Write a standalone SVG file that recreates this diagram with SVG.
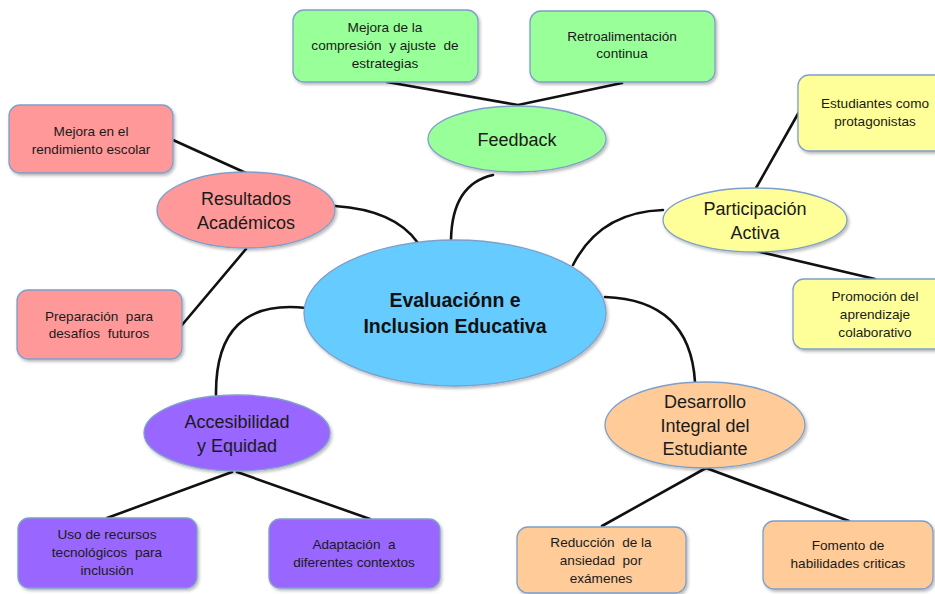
<svg xmlns="http://www.w3.org/2000/svg" width="935" height="594" viewBox="0 0 935 594">
<defs>
<filter id="sh" x="-10%" y="-10%" width="125%" height="130%">
<feDropShadow dx="1.5" dy="2" stdDeviation="1.5" flood-color="#000" flood-opacity="0.28"/>
</filter>
<style>
.box{stroke:#7E9FCC;stroke-width:1.3;filter:url(#sh)}
.ell{stroke:#7E9FCC;stroke-width:1.3;filter:url(#sh)}
.g{fill:#99FF99}.p{fill:#FF9999}.y{fill:#FFFF99}.v{fill:#9966FF}.o{fill:#FFCC99}.c{fill:#66CCFF}
.t{font-family:"Liberation Sans",Arial,sans-serif;font-size:13.6px;fill:#1a1a1a;text-anchor:middle;white-space:pre}
.e{font-family:"Liberation Sans",Arial,sans-serif;font-size:18px;fill:#1a1a1a;text-anchor:middle}
.m{font-family:"Liberation Sans",Arial,sans-serif;font-size:19.5px;font-weight:bold;fill:#111;text-anchor:middle}
.ln{fill:none;stroke:#111;stroke-width:2.6;stroke-linecap:round}
</style>
</defs>
<rect width="935" height="594" fill="#fff"/>
<g id="connectors">
<path class="ln" d="M387,82 L518,105 L622,83"/>
<path class="ln" d="M493,175 Q452,184 451,240"/>
<path class="ln" d="M173,140 L246,173"/>
<path class="ln" d="M246,249 L182,325"/>
<path class="ln" d="M335,206 Q395,210 418,243"/>
<path class="ln" d="M306,308 Q215,298 216,395"/>
<path class="ln" d="M232,472 L107,518"/>
<path class="ln" d="M237,472 L370,519"/>
<path class="ln" d="M605,297 Q690,300 695,382"/>
<path class="ln" d="M706,468 L602,526"/>
<path class="ln" d="M706,468 L849,521"/>
<path class="ln" d="M573,265 Q600,212 663,210"/>
<path class="ln" d="M756,188 L799,112"/>
<path class="ln" d="M756,251 L875,279"/>
</g>
<g id="center">
<ellipse class="ell c" cx="455" cy="313" rx="151" ry="73"/>
<text class="m" x="455" y="307">Evaluaciónn e</text>
<text class="m" x="455" y="333">Inclusion Educativa</text>
</g>
<g id="feedback">
<ellipse class="ell g" cx="517" cy="139" rx="89" ry="33"/>
<text class="e" x="517" y="146">Feedback</text>
</g>
<g id="mejora-comprension">
<rect class="box g" x="293" y="10" width="185" height="72" rx="11"/>
<text class="t" x="385" y="32">Mejora de la</text>
<text class="t" x="385" y="50">compresión  y ajuste  de</text>
<text class="t" x="385" y="68">estrategias</text>
</g>
<g id="retroalimentacion">
<rect class="box g" x="530" y="11" width="185" height="71" rx="11"/>
<text class="t" x="622" y="41">Retroalimentación</text>
<text class="t" x="622" y="58">continua</text>
</g>
<g id="resultados">
<ellipse class="ell p" cx="246" cy="210" rx="89" ry="38"/>
<text class="e" x="246" y="205">Resultados</text>
<text class="e" x="246" y="229">Académicos</text>
</g>
<g id="mejora-rendimiento">
<rect class="box p" x="9" y="105" width="164" height="68" rx="11"/>
<text class="t" x="91" y="136">Mejora en el</text>
<text class="t" x="91" y="154">rendimiento escolar</text>
</g>
<g id="preparacion">
<rect class="box p" x="17" y="290" width="165" height="69" rx="11"/>
<text class="t" x="99" y="321">Preparación  para</text>
<text class="t" x="99" y="338">desafíos  futuros</text>
</g>
<g id="participacion">
<ellipse class="ell y" cx="755" cy="220" rx="92" ry="32"/>
<text class="e" x="755" y="215">Participación</text>
<text class="e" x="755" y="239">Activa</text>
</g>
<g id="estudiantes">
<rect class="box y" x="798" y="75" width="150" height="76" rx="11"/>
<text class="t" x="875" y="108">Estudiantes como</text>
<text class="t" x="875" y="126">protagonistas</text>
</g>
<g id="promocion">
<rect class="box y" x="793" y="279" width="155" height="70" rx="11"/>
<text class="t" x="875" y="301">Promoción del</text>
<text class="t" x="875" y="319">aprendizaje</text>
<text class="t" x="875" y="337">colaborativo</text>
</g>
<g id="accesibilidad">
<ellipse class="ell v" cx="237" cy="433" rx="93" ry="38"/>
<text class="e" x="237" y="428">Accesibilidad</text>
<text class="e" x="237" y="452">y Equidad</text>
</g>
<g id="uso-recursos">
<rect class="box v" x="18" y="518" width="179" height="70" rx="11"/>
<text class="t" x="107" y="539">Uso de recursos</text>
<text class="t" x="107" y="557">tecnológicos  para</text>
<text class="t" x="107" y="575">inclusión</text>
</g>
<g id="adaptacion">
<rect class="box v" x="269" y="519" width="171" height="69" rx="11"/>
<text class="t" x="354" y="549">Adaptación  a</text>
<text class="t" x="354" y="567">diferentes contextos</text>
</g>
<g id="desarrollo">
<ellipse class="ell o" cx="705" cy="425" rx="100" ry="43"/>
<text class="e" x="705" y="408">Desarrollo</text>
<text class="e" x="705" y="432">Integral del</text>
<text class="e" x="705" y="455">Estudiante</text>
</g>
<g id="reduccion">
<rect class="box o" x="517" y="527" width="169" height="66" rx="11"/>
<text class="t" x="601" y="547">Reducción  de la</text>
<text class="t" x="601" y="565">ansiedad  por</text>
<text class="t" x="601" y="583">exámenes</text>
</g>
<g id="fomento">
<rect class="box o" x="763" y="521" width="170" height="68" rx="11"/>
<text class="t" x="848" y="550">Fomento de</text>
<text class="t" x="848" y="568">habilidades criticas</text>
</g>
</svg>
